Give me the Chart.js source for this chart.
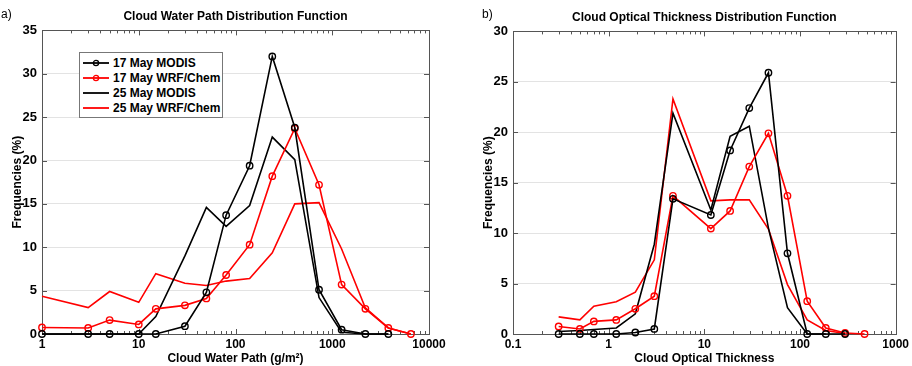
<!DOCTYPE html>
<html>
<head>
  <meta charset="utf-8">
  <title>Cloud Water Path / Cloud Optical Thickness Distribution Functions</title>
  <script src="https://cdn.jsdelivr.net/npm/chart.js"></script>
  <style>
    html, body { margin: 0; padding: 0; background: #fff; }
    #wrap { position: relative; width: 912px; height: 366px; font-family: "Liberation Sans", Arial, sans-serif; }
    .panel { position: absolute; top: 0; }
    .tag { position: absolute; top: 7px; font-size: 12px; color: #000; }
    #legend { position: absolute; left: 79px; top: 52px; width: 142px; height: 62px; border: 1px solid #777; background: #fff; padding-top: 2px; }
    #legend .row { display: flex; align-items: center; height: 15px; font-size: 12px; font-weight: bold; color: #000; }
    #legend svg { margin-left: 3px; margin-right: 4px; }
  </style>
</head>
<body>
<div id="wrap">
  <canvas id="cwp" class="panel" style="left:0" width="456" height="366"></canvas>
  <canvas id="cot" class="panel" style="left:456px" width="456" height="366"></canvas>
  <span class="tag" style="left:1px">a)</span>
  <span class="tag" style="left:482px">b)</span>
  <div id="legend"></div>
</div>
<script>
  // Cloud water path bins (g/m2) and frequencies (%)
  const cwpBins    = [1, 3, 5, 10, 15, 30, 50, 80, 140, 240, 410, 730, 1250, 2200, 3800, 6500];
  const cwpModis17 = [0, 0, 0, 0, 0, 0.9, 4.8, 13.7, 19.4, 32.0, 23.8, 5.1, 0.5, 0, 0, null];
  const cwpWrf17   = [0.75, 0.7, 1.6, 1.1, 2.9, 3.3, 4.1, 6.8, 10.3, 18.2, 23.7, 17.2, 5.7, 2.9, 0.7, 0];
  const cwpModis25 = [0, 0, 0, 0, 2.0, 9.0, 14.6, 12.4, 14.8, 22.7, 20.1, 4.2, 0.2, 0, 0, null];
  const cwpWrf25   = [4.35, 3.05, 4.9, 3.65, 6.95, 5.85, 5.6, 6.1, 6.4, 9.35, 15.0, 15.15, 9.8, 3.0, 0.7, 0];

  // Cloud optical thickness bins and frequencies (%)
  const cotBins    = [0.3, 0.5, 0.7, 1.2, 1.9, 3.0, 4.7, 11.7, 18.6, 29.5, 46.8, 74, 119, 186, 296, 473];
  const cotModis17 = [0, 0, 0, 0, 0.15, 0.5, 13.4, 11.8, 18.2, 22.4, 25.9, 8.0, 0, 0, 0, null];
  const cotWrf17   = [0.75, 0.5, 1.25, 1.4, 2.5, 3.75, 13.7, 10.45, 12.2, 16.6, 19.9, 13.7, 3.25, 0.6, 0.1, 0];
  const cotModis25 = [0.25, 0.35, 0.45, 0.6, 2.0, 8.9, 21.9, 12.3, 19.6, 20.6, 10.5, 2.6, 0, 0, null, null];
  const cotWrf25   = [1.7, 1.4, 2.75, 3.2, 4.15, 7.35, 23.3, 13.2, 13.3, 13.3, 10.4, 4.9, 1.4, 0.35, 0.05, null];

  const seriesNames = ["17 May MODIS", "17 May WRF/Chem", "25 May MODIS", "25 May WRF/Chem"];
  const cwpXTicks = [1, 10, 100, 1000, 10000];
  const cotXTicks = [0.1, 1, 10, 100, 1000];

  const FONT = "'Liberation Sans', Arial, sans-serif";
  const styles = [
    { color: "#000", marker: true },
    { color: "#f00", marker: true },
    { color: "#000", marker: false },
    { color: "#f00", marker: false }
  ];

  function points(bins, vals) {
    return bins.map((b, i) => ({ x: b, y: vals[i] })).filter(p => p.y !== null);
  }

  // MATLAB-like box with inward ticks
  const boxTicks = {
    id: "boxTicks",
    beforeDatasetsDraw(chart) {
      const { ctx, chartArea: a, scales: { x, y } } = chart;
      ctx.save();
      ctx.strokeStyle = "#555";
      ctx.lineWidth = 1;
      ctx.beginPath();
      const lo = Math.round(Math.log10(x.min)), hi = Math.round(Math.log10(x.max));
      for (let d = lo; d < hi; d++) {
        for (let k = 1; k < 10; k++) {
          const px = Math.round(x.getPixelForValue(k * Math.pow(10, d))) + 0.5;
          const len = k === 1 ? 5 : 3;
          ctx.moveTo(px, a.bottom); ctx.lineTo(px, a.bottom - len);
          ctx.moveTo(px, a.top); ctx.lineTo(px, a.top + len);
        }
      }
      y.ticks.forEach(t => {
        const py = Math.round(y.getPixelForValue(t.value)) + 0.5;
        ctx.moveTo(a.left, py); ctx.lineTo(a.left + 5, py);
        ctx.moveTo(a.right, py); ctx.lineTo(a.right - 5, py);
      });
      ctx.stroke();
      ctx.strokeRect(Math.round(a.left) + 0.5, Math.round(a.top) + 0.5,
                     Math.round(a.right - a.left), Math.round(a.bottom - a.top));
      ctx.restore();
    }
  };

  function makeChart(id, cfg) {
    const datasets = cfg.series.map((vals, i) => ({
      label: seriesNames[i],
      data: points(cfg.bins, vals),
      borderColor: styles[i].color,
      borderWidth: 1.6,
      pointRadius: styles[i].marker ? 3.2 : 0,
      pointBorderWidth: 1.4,
      pointBorderColor: styles[i].color,
      pointBackgroundColor: "rgba(0,0,0,0)",
      tension: 0,
      clip: 6
    }));
    return new Chart(document.getElementById(id), {
      type: "line",
      data: { datasets },
      plugins: [boxTicks],
      options: {
        responsive: false,
        animation: false,
        layout: { padding: cfg.padding },
        plugins: {
          legend: { display: false },
          tooltip: { enabled: false },
          title: {
            display: true, text: cfg.title, color: "#000", fullSize: false,
            font: { family: FONT, size: 12, weight: "bold" },
            padding: cfg.titlePad
          }
        },
        scales: {
          x: {
            type: "logarithmic",
            min: cfg.xTicks[0], max: cfg.xTicks[cfg.xTicks.length - 1],
            grid: { display: false, drawTicks: false },
            border: { display: false },
            ticks: {
              autoSkip: false, maxRotation: 0, padding: 3, color: "#000",
              font: { family: FONT, size: 12, weight: "bold" },
              callback: v => cfg.xTicks.some(t => Math.abs(t - v) < t * 1e-6) ? String(v) : ""
            },
            title: {
              display: true, text: cfg.xTitle, color: "#000",
              font: { family: FONT, size: 12, weight: "bold" },
              padding: { top: 0, bottom: 0 }
            },
            afterFit: s => { s.height = 32; }
          },
          y: {
            min: 0, max: cfg.yMax,
            grid: { color: "#e3e3e3", drawTicks: false },
            border: { display: false },
            ticks: {
              stepSize: 5, padding: 5, color: "#000",
              font: { family: FONT, size: 13, weight: "bold" }
            },
            title: {
              display: true, text: "Frequencies (%)", color: "#000",
              font: { family: FONT, size: 12, weight: "bold" },
              padding: { top: 10, bottom: 0 }
            },
            afterFit: s => { s.width = 42; }
          }
        }
      }
    });
  }

  makeChart("cwp", {
    bins: cwpBins,
    series: [cwpModis17, cwpWrf17, cwpModis25, cwpWrf25],
    title: "Cloud Water Path Distribution Function",
    xTitle: "Cloud Water Path (g/m\u00B2)",
    xTicks: cwpXTicks, yMax: 35,
    padding: { left: 0, right: 27, top: 0, bottom: 0 },
    titlePad: { top: 9, bottom: 7 }
  });

  makeChart("cot", {
    bins: cotBins,
    series: [cotModis17, cotWrf17, cotModis25, cotWrf25],
    title: "Cloud Optical Thickness Distribution Function",
    xTitle: "Cloud Optical Thickness",
    xTicks: cotXTicks, yMax: 30,
    padding: { left: 15, right: 14, top: 0, bottom: 0 },
    titlePad: { top: 10, bottom: 7 }
  });

  // legend for panel a
  const legend = document.getElementById("legend");
  seriesNames.forEach((name, i) => {
    const s = styles[i];
    const row = document.createElement("div");
    row.className = "row";
    row.innerHTML =
      '<svg width="26" height="10"><line x1="0" y1="5" x2="26" y2="5" stroke="' + s.color + '" stroke-width="1.8"/>' +
      (s.marker ? '<circle cx="13" cy="5" r="2.6" fill="none" stroke="' + s.color + '" stroke-width="1.3"/>' : '') +
      '</svg><span>' + name + '</span>';
    legend.appendChild(row);
  });
</script>
</body>
</html>
